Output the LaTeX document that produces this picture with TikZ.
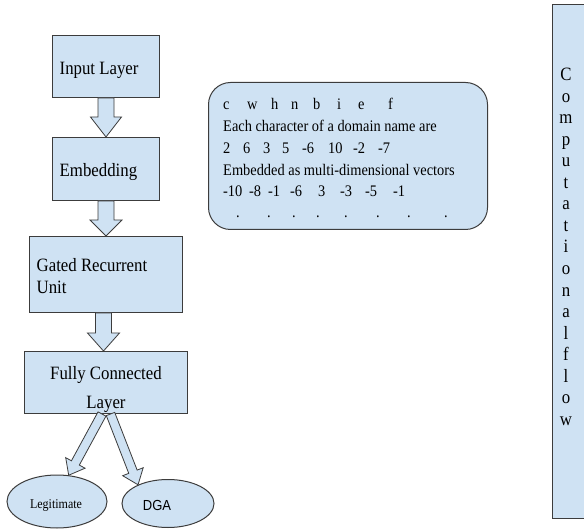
\documentclass[tikz,border=0pt]{standalone}
\usepackage{fontspec}
\setmainfont{Liberation Serif}
\newfontfamily\dgafont{Liberation Sans}
\usetikzlibrary{calc,shapes.geometric}
\definecolor{boxfill}{HTML}{CFE2F3}
\definecolor{boxline}{HTML}{3C3C3C}
\newcommand\vs[1]{\scalebox{1}[1.12]{#1}}
\newcommand\tk[2]{\makebox[#1pt][l]{#2}}
\newcommand\blockarrow[5]{%
  \coordinate (ba-s) at (#1);
  \coordinate (ba-e) at (#2);
  \coordinate (ba-h) at ($(ba-e)!#5!(ba-s)$);
  \draw[barrow] ($(ba-s)!#3!90:(ba-e)$) -- ($(ba-h)!#3!90:(ba-e)$) -- ($(ba-h)!#4!90:(ba-e)$) -- (ba-e) -- ($(ba-h)!#4!-90:(ba-e)$) -- ($(ba-h)!#3!-90:(ba-e)$) -- ($(ba-s)!#3!-90:(ba-e)$) -- cycle;
}
\tikzset{
  box/.style={draw=boxline, fill=boxfill, line width=1pt, inner sep=0pt, anchor=north west},
  oval/.style={ellipse, draw=boxline, fill=boxfill, line width=1pt, inner sep=0pt},
  barrow/.style={draw=boxline, fill=boxfill, line width=0.8pt, line join=miter},
  lbl/.style={inner sep=0pt, anchor=base west, font=\fontsize{16.8}{22}\selectfont},
  lblc/.style={lbl, anchor=base},
  small/.style={inner sep=0pt, anchor=base west, font=\fontsize{14.4}{21.6}\selectfont},
}
\begin{document}
\begin{tikzpicture}[x=1pt,y=-1pt]
\useasboundingbox[fill=white] (0,0) rectangle (584,529);
% boxes
\node[box, minimum width=107pt, minimum height=62pt] (inp) at (52,35) {};
\node[box, minimum width=107pt, minimum height=63pt] (emb) at (52,137) {};
\node[box, minimum width=153pt, minimum height=76pt] (gru) at (29,236) {};
\node[box, minimum width=163pt, minimum height=62pt] (fcl) at (24,351) {};
\node[box, rounded corners=22pt, minimum width=279pt, minimum height=147pt] (cbox) at (208,82) {};
\node[box, minimum width=60pt, minimum height=514pt] (flow) at (552,4) {};
% ellipses
\node[oval, minimum width=100pt, minimum height=53pt] (leg) at (57,501.5) {};
\node[oval, minimum width=92pt, minimum height=48pt] (dga) at (168,503.5) {};
% block arrows
\blockarrow{inp.south}{emb.north}{8pt}{15.5pt}{20pt}
\blockarrow{emb.south}{gru.north}{8pt}{16pt}{16pt}
\blockarrow{[xshift=-2.5pt]gru.south}{[xshift=-2.5pt]fcl.north}{8pt}{16pt}{18pt}
\blockarrow{[xshift=-4pt]fcl.south}{leg.66}{4.5pt}{11pt}{14pt}
\blockarrow{[xshift=4.5pt]fcl.south}{dga.148}{4.5pt}{11pt}{14pt}
% texts
\node[lbl] (t-inp) at (59.5,75) {\vs{Input Layer}};
\node[lbl] (t-emb) at (59.5,177) {\vs{Embedding}};
\node[lbl] (t-gru1) at (36.5,272) {\vs{Gated Recurrent}};
\node[lbl] (t-gru2) at (36.5,294) {\vs{Unit}};
\node[lblc] (t-fcl1) at (106,380) {\vs{Fully Connected}};
\node[lblc] (t-fcl2) at (106,409) {\vs{Layer}};
\node[inner sep=0pt, anchor=base, font=\fontsize{12}{14}\selectfont] (t-leg) at (56,508) {\vs{Legitimate}};
\node[inner sep=0pt, anchor=base, font=\dgafont\fontsize{13}{15}\selectfont] (t-dga) at (157,510) {\vs{DGA}};
% rounded box text
\node[small] (c1) at (223,110) {\vs{\tk{24}{c}\tk{24}{w}\tk{20}{h}\tk{22}{n}\tk{24}{b}\tk{21}{i}\tk{30}{e}f}};
\node[small] (c2) at (223,131.5) {\vs{Each character of a domain name are}};
\node[small] (c3) at (223,153.5) {\vs{\tk{20}{2}\tk{20}{6}\tk{19}{3}\tk{20}{5}\tk{26}{-6}\tk{25}{10}\tk{25}{-2}-7}};
\node[small] (c4) at (223,175.5) {\vs{Embedded as multi-dimensional vectors}};
\node[small] (c5) at (223,197) {\vs{\tk{26}{-10}\tk{19}{-8}\tk{22}{-1}\tk{28}{-6}\tk{22}{3}\tk{25}{-3}\tk{28}{-5}-1}};
\node[small] (c6) at (236,218) {\vs{\tk{31}{.}\tk{25}{.}\tk{24}{.}\tk{28}{.}\tk{32}{.}\tk{31}{.}\tk{37}{.}.}};
% vertical text
\foreach \ch [count=\i] in {C,o,m,p,u,t,a,t,i,o,n,a,l,f,l,o,w}
  \node[inner sep=0pt, anchor=base, font=\fontsize{16.8}{20}\selectfont] (v-\i) at (566,{80.5+21.56*(\i-1)}) {\vs{\ch}};
\end{tikzpicture}
\end{document}
